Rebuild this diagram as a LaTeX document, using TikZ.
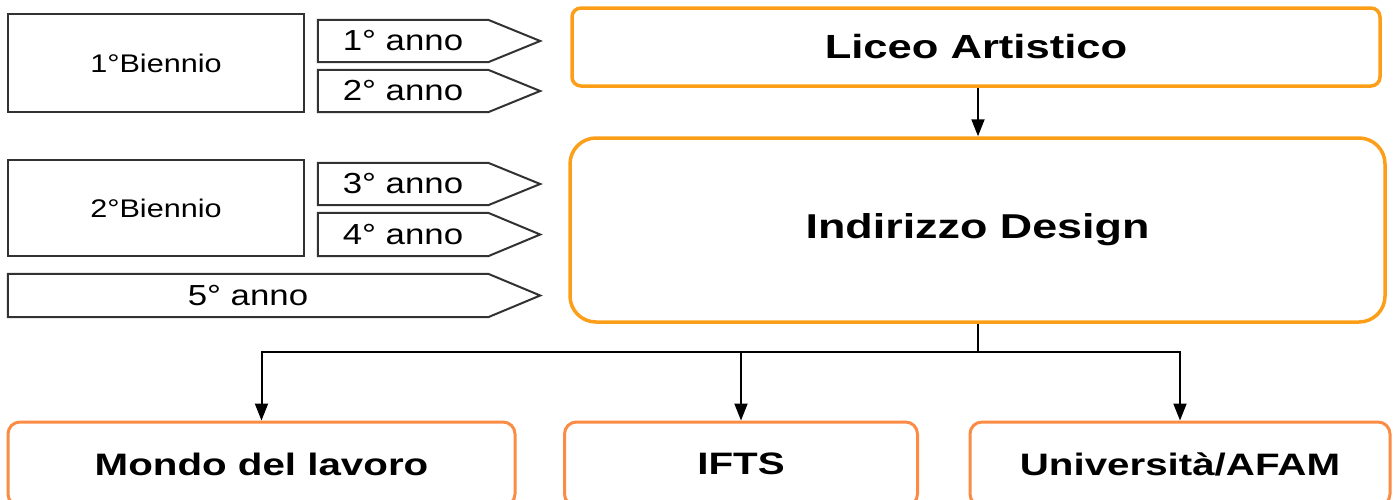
\documentclass[tikz,border=0pt]{standalone}
\usepackage{fontspec}
\setmainfont{Liberation Sans}
\newfontfamily\stretchf[FakeStretch=1.2]{Liberation Sans}
\newfontfamily\widef[FakeStretch=1.3]{Liberation Sans}
\usetikzlibrary{arrows.meta,calc}
\definecolor{orangetop}{RGB}{252,158,24}
\definecolor{orangebot}{RGB}{250,140,70}
\definecolor{boxline}{RGB}{50,50,50}
\begin{document}
\begin{tikzpicture}[x=1pt,y=-1pt,
  plainbox/.style={draw=boxline,line width=2pt,inner sep=0pt,font=\stretchf\fontsize{25.5}{28}\selectfont},
  yearbody/.style={inner sep=0pt,font=\stretchf\fontsize{29}{32}\selectfont},
  yearline/.style={draw=boxline,line width=2pt,line join=miter},
  topbox/.style={draw=orangetop,line width=3.5pt,inner sep=0pt,font=\widef\bfseries\fontsize{33.5}{38}\selectfont},
  botbox/.style={draw=orangebot,line width=3pt,rounded corners=12pt,inner sep=0pt,font=\widef\bfseries\fontsize{31}{36}\selectfont},
  conn/.style={draw=black,line width=2pt},
  arr/.style={conn,-{Triangle[length=17pt,width=13pt]}}
]
\useasboundingbox (0,0) rectangle (1395,499);
\clip (0,0) rectangle (1395,499);
\fill[white] (0,0) rectangle (1395,499);

% left boxes
\node[plainbox,minimum width=296pt,minimum height=98pt] (b1) at (156,63) {1°Biennio};
\node[plainbox,minimum width=296pt,minimum height=96pt] (b2) at (156,208) {2°Biennio};

% year arrows
\node[yearbody,minimum width=170pt,minimum height=42pt] (y1) at (403,41) {1° anno};
\node[yearbody,minimum width=170pt,minimum height=42pt] (y2) at (403,91) {2° anno};
\node[yearbody,minimum width=170pt,minimum height=42pt] (y3) at (403,184) {3° anno};
\node[yearbody,minimum width=170pt,minimum height=43pt] (y4) at (403,234.5) {4° anno};
\node[yearbody,minimum width=480pt,minimum height=43pt] (y5) at (248,295.5) {5° anno};
\foreach \n in {y1,y2,y3,y4,y5}{
  \draw[yearline] (\n.north west) -- (\n.north east) -- ($(\n.east)+(52,0)$) -- (\n.south east) -- (\n.south west) -- cycle;
}

% right column
\node[topbox,rounded corners=9pt,minimum width=808pt,minimum height=78pt] (liceo) at (976,47) {Liceo Artistico};
\node[topbox,rounded corners=26pt,minimum width=815pt,minimum height=184pt,font=\widef\bfseries\fontsize{34.5}{38}\selectfont] (design) at (977.5,230) {Indirizzo Design};

\node[botbox,minimum width=507pt,minimum height=84pt] (mondo) at (261.5,464) {Mondo del lavoro};
\node[botbox,minimum width=353pt,minimum height=84pt] (ifts) at (741,464) {IFTS};
\node[botbox,minimum width=420pt,minimum height=84pt] (univ) at (1180,464) {Università/AFAM};

\draw[arr] (liceo.south -| 978,0) -- (design.north -| 978,0);
\draw[conn] (design.south -| 978,0) -- (978,352) coordinate (j);
\draw[arr] (j) -| (mondo.north);
\draw[arr] (j) -| (ifts.north);
\draw[arr] (j) -| (univ.north);
\end{tikzpicture}
\end{document}
